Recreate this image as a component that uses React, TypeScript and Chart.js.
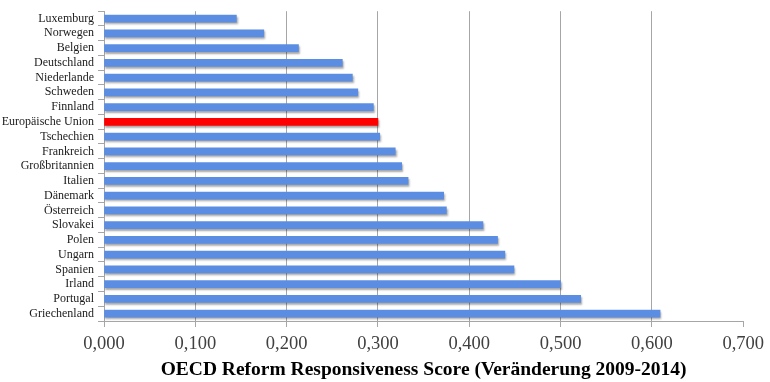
import React, { useEffect, useRef } from "react";
import { Chart, registerables } from "chart.js";

Chart.register(...registerables);

const countries = [
  "Luxemburg", "Norwegen", "Belgien", "Deutschland", "Niederlande", "Schweden",
  "Finnland", "Europäische Union", "Tschechien", "Frankreich", "Großbritannien",
  "Italien", "Dänemark", "Österreich", "Slovakei", "Polen", "Ungarn", "Spanien",
  "Irland", "Portugal", "Griechenland",
];
const scores = [
  0.145, 0.175, 0.213, 0.261, 0.272, 0.278, 0.295, 0.3, 0.302, 0.319, 0.326,
  0.333, 0.372, 0.375, 0.415, 0.431, 0.439, 0.449, 0.5, 0.522, 0.609,
];
const highlight = "Europäische Union";
const xTitle = "OECD Reform Responsiveness Score (Veränderung 2009-2014)";

const shadowPlugin = {
  id: "barShadow",
  beforeDatasetDraw(chart: any) {
    const ctx = chart.ctx;
    ctx.save();
    ctx.shadowColor = "rgba(0,0,0,0.35)";
    ctx.shadowOffsetY = 2;
    ctx.shadowOffsetX = 1;
    ctx.shadowBlur = 2;
  },
  afterDatasetDraw(chart: any) {
    chart.ctx.restore();
  },
};

export default function App() {
  const ref = useRef<HTMLCanvasElement | null>(null);
  useEffect(() => {
    if (!ref.current) return;
    const chart = new Chart(ref.current, {
      type: "bar",
      data: {
        labels: countries,
        datasets: [
          {
            data: scores,
            backgroundColor: countries.map((c) => (c === highlight ? "#ff0000" : "#5b8ee2")),
            barThickness: 7,
            borderWidth: 0,
          },
        ],
      },
      plugins: [shadowPlugin],
      options: {
        indexAxis: "y",
        animation: false,
        responsive: false,
        maintainAspectRatio: false,
        layout: { padding: { top: 11, right: 26, left: 0, bottom: 0 } },
        plugins: { legend: { display: false }, tooltip: { enabled: false } },
        scales: {
          x: {
            min: 0,
            max: 0.7,
            ticks: {
              stepSize: 0.1,
              color: "#404040",
              font: { family: "Liberation Serif", size: 18.5 },
              padding: 6,
              callback: (v: any) => Number(v).toFixed(3).replace(".", ","),
            },
            grid: {
              color: (c: any) => (c.tick && Math.abs(c.tick.value - 0.7) < 1e-6 ? "rgba(0,0,0,0)" : "#a6a6a6"),
              tickColor: "#a6a6a6",
              tickLength: 6,
              lineWidth: 1,
            },
            border: { color: "#a6a6a6" },
            title: {
              display: true,
              text: xTitle,
              color: "#000000",
              font: { family: "Liberation Serif", size: 19.5, weight: "bold" },
              padding: { top: 0, bottom: 0 },
            },
            afterFit: (s: any) => {
              s.height = 61;
            },
          },
          y: {
            ticks: {
              autoSkip: false,
              color: "#1a1a1a",
              font: { family: "Liberation Serif", size: 12 },
              padding: 4,
            },
            grid: {
              drawOnChartArea: false,
              offset: true,
              tickLength: 6,
              tickColor: "#a6a6a6",
            },
            border: { color: "#a6a6a6" },
            afterFit: (s: any) => {
              s.width = 104;
            },
          },
        },
      },
    });
    return () => chart.destroy();
  }, []);
  return (
    <div style={{ position: "fixed", left: 0, top: 0, width: 770, height: 382, background: "#fff" }}>
      <canvas ref={ref} width={770} height={382} style={{ width: 770, height: 382 }} />
    </div>
  );
}
